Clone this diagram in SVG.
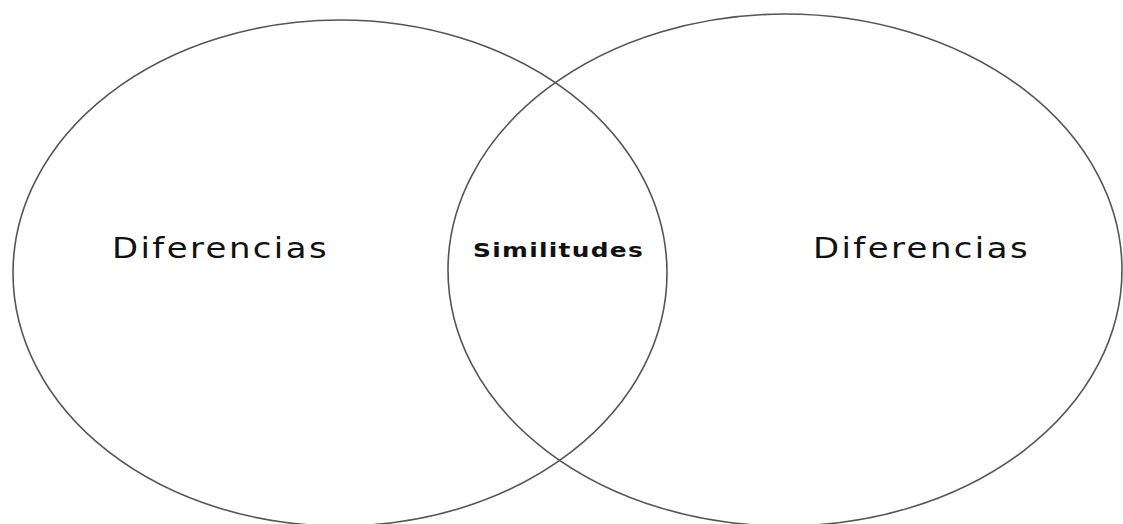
<svg xmlns="http://www.w3.org/2000/svg" width="1123" height="524" viewBox="0 0 1123 524">
<style>
.c{fill:none;stroke:#555;stroke-width:1.6}
.t{font-family:"DejaVu Sans",Verdana,sans-serif;fill:#111}
</style>
<rect width="1123" height="524" fill="#fff"/>
<g id="left">
<ellipse class="c" cx="340" cy="273" rx="327" ry="253"/>
<text class="t" x="112" y="258" font-size="28" letter-spacing="2" textLength="217" lengthAdjust="spacingAndGlyphs">Diferencias</text>
</g>
<g id="right">
<ellipse class="c" cx="785" cy="270" rx="337" ry="256"/>
<text class="t" x="813" y="258" font-size="28" letter-spacing="2" textLength="217" lengthAdjust="spacingAndGlyphs">Diferencias</text>
</g>
<g id="center">
<text class="t" x="473" y="257" font-size="19" font-weight="bold" letter-spacing="1" textLength="171" lengthAdjust="spacingAndGlyphs">Similitudes</text>
</g>
<g id="connectors"/>
</svg>
